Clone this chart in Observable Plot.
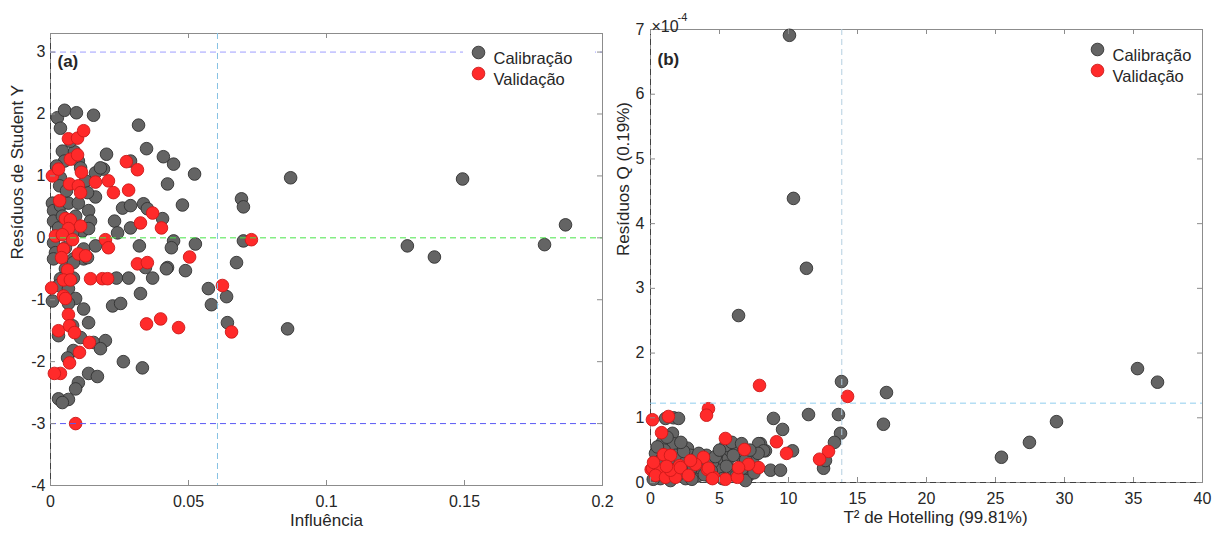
<!DOCTYPE html>
<html>
<head>
<meta charset="utf-8">
<script src="https://cdn.jsdelivr.net/npm/d3@7"></script>
<script src="https://cdn.jsdelivr.net/npm/@observablehq/plot@0.6"></script>
<style>
  body { margin: 0; background: #fff; }
  #fig { position: relative; width: 1220px; height: 534px; background: #fff; font-family: "Liberation Sans", Arial, sans-serif; }
  #fig > div { position: absolute; top: 0; }
  #panelA { left: 0; z-index: 2; }
  #panelB { left: 610px; z-index: 1; }
</style>
</head>
<body>
<div id="fig"><div id="panelA"></div><div id="panelB"></div></div>
<script>
// ---- tick values ----
const leverageTicks = [0, 0.05, 0.1, 0.15, 0.2];
const studentTicks = [-4, -3, -2, -1, 0, 1, 2, 3];
const t2Ticks = [0, 5, 10, 15, 20, 25, 30, 35, 40];
const qTicks = [0, 1, 2, 3, 4, 5, 6, 7]; // Q residuals, ×10^-4

// ---- limits ----
const leverageLimit = 0.0605;
const studentLimit = 3;
const t2Limit = 13.86;
const qLimit = 1.226; // ×10^-4

// ---- (a) influence vs studentized residuals: [leverage, residual] ----
const calibracaoA = [
  [0.0025,1.94],[0.0051,2.06],[0.0094,2.02],[0.0156,1.98],[0.0036,1.77],[0.0319,1.82],[0.0348,1.44],
  [0.0409,1.31],[0.0446,1.19],[0.0522,1.03],[0.0424,0.87],[0.0478,0.53],[0.0870,0.97],[0.0692,0.63],
  [0.0699,0.50],[0.0699,-0.05],[0.0674,-0.40],[0.0203,1.35],[0.0192,1.11],[0.0163,0.66],[0.0290,1.24],
  [0.0232,0.27],[0.0243,0.08],[0.0290,0.16],[0.0261,0.48],[0.0290,0.52],[0.0337,0.55],[0.0351,0.47],
  [0.0406,0.31],[0.0322,-0.13],[0.0446,-0.05],[0.0438,-0.16],[0.0525,-0.10],[0.0424,-0.48],[0.0489,-0.53],
  [0.0043,1.40],[0.0051,1.24],[0.0087,1.39],[0.0101,1.24],[0.0109,1.13],[0.0036,0.97],[0.0033,0.84],
  [0.0163,1.05],[0.0181,1.13],[0.0134,0.73],[0.0007,0.56],[0.0011,0.44],[0.0036,0.52],[0.0065,0.56],
  [0.0101,0.56],[0.0138,0.44],[0.0145,0.27],[0.0011,0.27],[0.0029,0.16],[0.0116,0.11],[0.0138,0.15],
  [0.0163,-0.13],[0.0120,-0.18],[0.0011,-0.08],[0.0018,-0.24],[0.0054,-0.16],[0.0083,-0.34],[0.0120,-0.34],
  [0.0011,-0.34],[0.0054,-0.50],[0.0083,-0.40],[0.0134,-0.32],[0.0036,-0.66],[0.0083,-0.65],[0.0007,-1.02],
  [0.0029,-0.77],[0.0065,-0.82],[0.0091,-0.98],[0.0065,-1.06],[0.0120,-1.15],[0.0138,-1.37],[0.0080,-1.42],
  [0.0029,-1.58],[0.0109,-1.61],[0.0156,-1.69],[0.0199,-1.66],[0.0181,-1.79],[0.0083,-1.82],[0.0062,-1.94],
  [0.0264,-2.00],[0.0333,-2.10],[0.0225,-1.10],[0.0254,-1.06],[0.0239,-0.65],[0.0283,-0.65],[0.0326,-0.90],
  [0.0370,-0.65],[0.0344,-0.48],[0.0420,-0.50],[0.0138,-2.19],[0.0170,-2.24],[0.0101,-2.34],[0.0091,-2.44],
  [0.0029,-2.60],[0.0065,-2.61],[0.0043,-2.66],[0.0572,-0.82],[0.0583,-1.08],[0.0638,-0.95],[0.0641,-1.37],
  [0.0859,-1.47],[0.1493,0.95],[0.1866,0.21],[0.1790,-0.11],[0.1293,-0.13],[0.1391,-0.31],[0.0072,1.56],
  [0.0058,0.76],[0.0091,0.35],[0.0127,0.92],[0.0022,1.16],[0.0080,0.08],[0.0043,0.35]
];
const validacaoA = [
  [0.0007,1.00],[0.0029,1.11],[0.0065,1.60],[0.0098,1.61],[0.0120,1.73],[0.0072,1.27],[0.0098,1.34],
  [0.0112,1.06],[0.0069,0.87],[0.0101,0.84],[0.0109,0.73],[0.0163,0.90],[0.0210,0.92],[0.0228,0.73],
  [0.0283,0.77],[0.0275,1.23],[0.0315,1.10],[0.0033,0.60],[0.0054,0.31],[0.0072,0.29],[0.0109,0.19],
  [0.0065,0.15],[0.0018,0.03],[0.0043,0.05],[0.0080,-0.03],[0.0047,-0.18],[0.0040,-0.32],[0.0101,-0.26],
  [0.0127,-0.29],[0.0199,-0.03],[0.0210,-0.16],[0.0370,0.40],[0.0326,0.24],[0.0402,0.16],[0.0504,-0.31],
  [0.0315,-0.42],[0.0351,-0.40],[0.0728,-0.03],[0.0062,-0.52],[0.0047,-0.68],[0.0072,-0.68],[0.0004,-0.81],
  [0.0047,-0.94],[0.0054,-0.98],[0.0145,-0.66],[0.0188,-0.66],[0.0207,-0.66],[0.0065,-1.24],[0.0029,-1.50],
  [0.0069,-1.42],[0.0087,-1.53],[0.0141,-1.69],[0.0105,-1.85],[0.0069,-2.02],[0.0036,-2.19],[0.0014,-2.19],
  [0.0348,-1.39],[0.0399,-1.31],[0.0464,-1.45],[0.0623,-0.77],[0.0656,-1.52],[0.0091,-3.00]
];

// ---- (b) Hotelling T² vs Q residuals: [T², Q ×10^-4] ----
const calibracaoB = [
  [10.07,6.91],[10.36,4.39],[11.30,3.31],[6.38,2.58],[13.84,1.56],[17.10,1.39],[11.45,1.05],[13.62,1.05],
  [16.88,0.90],[8.91,0.99],[9.57,0.82],[13.77,0.76],[13.33,0.62],[10.29,0.49],[8.33,0.49],[7.97,0.60],
  [8.70,0.19],[9.42,0.19],[12.54,0.22],[12.68,0.34],[35.29,1.76],[36.74,1.55],[29.42,0.94],[27.46,0.62],
  [25.43,0.39],[1.67,1.00],[2.03,0.99],[1.09,0.99],[1.59,0.76],[0.87,0.62],[1.67,0.60],[2.68,0.53],
  [0.36,0.45],[2.90,0.42],[2.32,0.34],[3.26,0.37],[5.07,0.31],[5.65,0.37],[5.80,0.49],[6.30,0.54],
  [4.93,0.19],[5.22,0.06],[3.48,0.11],[7.83,0.60],[8.19,0.49],[7.10,0.11],[6.52,0.42],[0.72,0.06],
  [1.45,0.03],[2.54,0.06],[3.62,0.22],[4.06,0.42],[4.49,0.31],[6.01,0.19],[6.67,0.22],[7.39,0.34],
  [2.90,0.19],[0.36,0.19],[4.35,0.08],[6.88,0.03],[5.43,0.57],[1.81,0.42],[0.72,0.34],
  [0.20,0.05],[0.50,0.30],[1.00,0.50],[1.30,0.30],[2.00,0.12],[2.40,0.48],[3.00,0.05],[3.10,0.25],
  [3.90,0.12],[4.10,0.33],[4.70,0.40],[5.00,0.50],[5.50,0.25],[6.00,0.42],[6.20,0.10],[6.90,0.35],
  [7.50,0.15],[7.80,0.45],[2.20,0.62],[1.20,0.70],[0.50,0.55],[5.90,0.62],[6.60,0.60],[3.50,0.45],
  [4.40,0.18],[1.70,0.20],[0.90,0.13],[7.20,0.50]
];
const validacaoB = [
  [7.90,1.50],[14.28,1.33],[4.20,1.14],[4.06,1.04],[1.30,1.02],[0.14,0.97],[0.80,0.77],[5.43,0.68],
  [9.13,0.63],[9.86,0.45],[12.90,0.48],[12.25,0.36],[6.81,0.51],[7.83,0.23],[7.10,0.28],[3.84,0.39],
  [4.13,0.20],[3.26,0.28],[5.43,0.05],[6.30,0.08],[4.57,0.08],[2.10,0.26],[0.94,0.43],[1.45,0.42],
  [0.05,0.20],[0.51,0.14],[0.14,0.22],[0.72,0.19],[0.36,0.11],[1.09,0.08],[1.81,0.08],[1.45,0.19],
  [2.17,0.23],[2.75,0.11],[4.20,0.22],[4.49,0.06],[6.38,0.23],[0.22,0.31],[1.16,0.25],[2.90,0.34]
];

// ---- styling ----
const gray = {fill: "#646464", stroke: "#323232", strokeWidth: 0.9};
const red = {fill: "#ff2a2a", stroke: "#cc1a1a", strokeWidth: 0.9};
const R = 6.3;
const dash = "6,4";
const axisColor = "#8c8c8c";
const style = {fontFamily: '"Liberation Sans", Arial, sans-serif', fontSize: "16px", color: "#262626", background: "transparent", overflow: "visible"};
const px = d => d[0], py = d => d[1];
const fmt = d => String(d);

// ticks pointing inward on all four sides of the box
function boxTicks(xs, ys, fw, fh) {
  const len = 5;
  return [
    Plot.tickX(xs, {x: d => d, insetTop: fh - len, stroke: axisColor}),
    Plot.tickX(xs, {x: d => d, insetBottom: fh - len, stroke: axisColor}),
    Plot.tickY(ys, {y: d => d, insetRight: fw - len, stroke: axisColor}),
    Plot.tickY(ys, {y: d => d, insetLeft: fw - len, stroke: axisColor})
  ];
}

function legend(dx, dy, gap) {
  return [
    Plot.dot([0], {frameAnchor: "top-right", dx, dy, r: R, ...gray}),
    Plot.dot([0], {frameAnchor: "top-right", dx, dy: dy + gap, r: R, ...red}),
    Plot.text(["Calibração"], {frameAnchor: "top-right", dx: dx + 15, dy, textAnchor: "start", fontSize: 16.5}),
    Plot.text(["Validação"], {frameAnchor: "top-right", dx: dx + 15, dy: dy + gap, textAnchor: "start", fontSize: 16.5})
  ];
}

// white legend background (interrupts the limit line behind it)
function legendBox(offsetRight, w, h) {
  return (index, scales, values, dim) => {
    const r = document.createElementNS("http://www.w3.org/2000/svg", "rect");
    r.setAttribute("x", dim.width - dim.marginRight - offsetRight);
    r.setAttribute("y", dim.marginTop + 1);
    r.setAttribute("width", w);
    r.setAttribute("height", h);
    r.setAttribute("fill", "#fff");
    return r;
  };
}

// ---- panel (a) ----
const fwA = 610 - 50 - 8, fhA = 534 - 33 - 49;
const plotA = Plot.plot({
  width: 610, height: 534,
  marginLeft: 50, marginRight: 8, marginTop: 33, marginBottom: 49,
  style,
  x: {domain: [0, 0.2], ticks: leverageTicks, tickFormat: fmt, tickSize: 0, tickPadding: 10, label: null},
  y: {domain: [-4, 3.3], ticks: studentTicks, tickFormat: fmt, tickSize: 0, tickPadding: 5, label: null},
  marks: [
    Plot.frame({stroke: axisColor}),
    Plot.ruleX([0], {stroke: "#404040", strokeDasharray: dash}),
    Plot.dot(calibracaoA, {x: px, y: py, r: R, ...gray}),
    Plot.dot(validacaoA, {x: px, y: py, r: R, ...red}),
    Plot.ruleX([leverageLimit], {stroke: "#86c1e3", strokeDasharray: dash}),
    Plot.ruleY([0], {stroke: "#48e448", strokeDasharray: dash}),
    Plot.ruleY([studentLimit], {stroke: "#9e9eff", strokeDasharray: dash}),
    Plot.ruleY([-studentLimit], {stroke: "#5a5af5", strokeDasharray: dash}),
    ...boxTicks(leverageTicks, studentTicks, fwA, fhA),
    legendBox(139, 132, 52),
    ...legend(-124, 19, 21),
    Plot.text(["(a)"], {frameAnchor: "top-left", dx: 7, dy: 21, textAnchor: "start", fontWeight: "bold", fontSize: 17}),
    Plot.text(["Influência"], {frameAnchor: "bottom", dy: 40, fontSize: 17}),
    Plot.text(["Resíduos de Student Y"], {frameAnchor: "left", dx: -33, rotate: -90, fontSize: 17})
  ]
});
document.getElementById("panelA").append(plotA);

// ---- panel (b) ----
const fwB = 610 - 40 - 18, fhB = 534 - 29 - 52;
const plotB = Plot.plot({
  width: 610, height: 534,
  marginLeft: 40, marginRight: 18, marginTop: 29, marginBottom: 52,
  style,
  x: {domain: [0, 40], ticks: t2Ticks, tickFormat: fmt, tickSize: 0, tickPadding: 10, label: null},
  y: {domain: [0, 7], ticks: qTicks, tickFormat: fmt, tickSize: 0, tickPadding: 6, label: null},
  marks: [
    Plot.frame({stroke: axisColor}),
    Plot.ruleX([0], {stroke: "#404040", strokeDasharray: dash}),
    Plot.ruleY([0], {stroke: "#404040", strokeDasharray: dash}),
    Plot.dot(calibracaoB, {x: px, y: py, r: R, ...gray}),
    Plot.dot(validacaoB, {x: px, y: py, r: R, ...red}),
    Plot.ruleX([t2Limit], {stroke: "#b4cfe2", strokeDasharray: dash}),
    Plot.ruleY([qLimit], {stroke: "#8fcdee", strokeDasharray: dash}),
    ...boxTicks(t2Ticks, qTicks, fwB, fhB),
    ...legend(-105, 20, 21),
    Plot.text(["(b)"], {frameAnchor: "top-left", dx: 7, dy: 23, textAnchor: "start", fontWeight: "bold", fontSize: 17}),
    Plot.text(["×10"], {frameAnchor: "top-left", dx: 1, dy: -9, textAnchor: "start", fontSize: 16}),
    Plot.text(["-4"], {frameAnchor: "top-left", dx: 27, dy: -16, textAnchor: "start", fontSize: 11}),
    Plot.text(["T² de Hotelling (99.81%)"], {frameAnchor: "bottom", dx: 9, dy: 40, fontSize: 17}),
    Plot.text(["Resíduos Q (0.19%)"], {frameAnchor: "left", dx: -27, rotate: -90, fontSize: 17})
  ]
});
document.getElementById("panelB").append(plotB);
</script>
</body>
</html>
